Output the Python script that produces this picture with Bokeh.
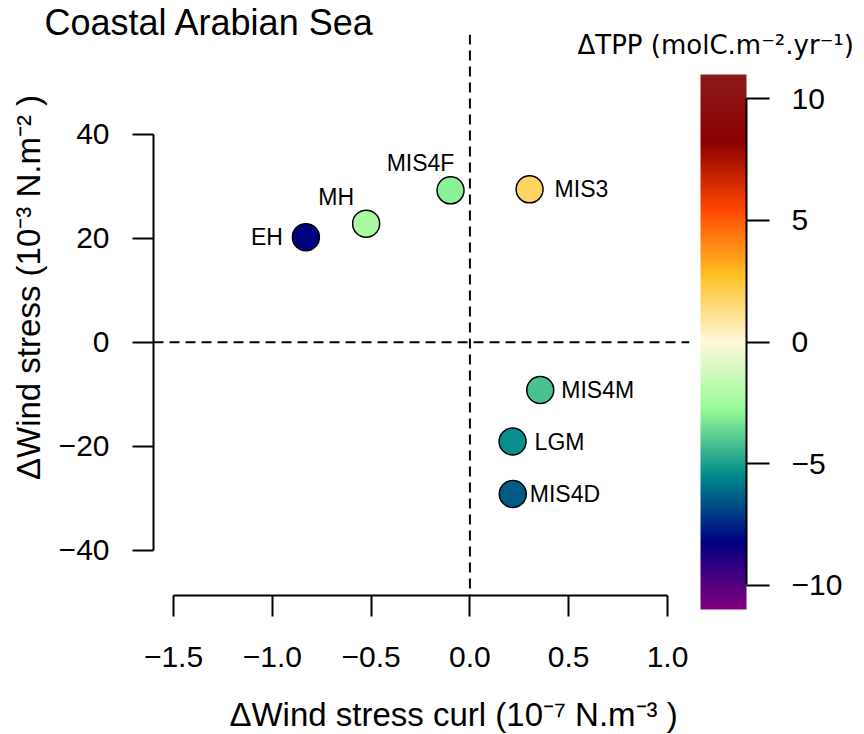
import numpy as np
from bokeh.plotting import figure
from bokeh.models import (ColumnDataSource, LinearColorMapper, ColorBar, FixedTicker,
                          Span, Title, CustomJSTickFormatter)
from bokeh.transform import linear_cmap
from bokeh.core.properties import value
from bokeh.embed import file_html
from bokeh.resources import INLINE

# ---- data ----
periods = ["EH", "MH", "MIS4F", "MIS3", "MIS4M", "LGM", "MIS4D"]
curl = [-0.83, -0.525, -0.098, 0.302, 0.356, 0.216, 0.217]        # 1e-7 N.m-3
stress = [20.2, 22.8, 29.2, 29.4, -9.2, -19.1, -29.2]             # 1e-3 N.m-2
dtpp = [-8.2, -2.3, -3.0, 1.85, -4.2, -5.4, -6.4]                 # molC.m-2.yr-1

x_ticks = [-1.5, -1.0, -0.5, 0.0, 0.5, 1.0]
y_ticks = [-40, -20, 0, 20, 40]
cb_ticks = [-10, -5, 0, 5, 10]

# ---- style ----
label_dx = [-23, -30, -30, 25, 21, 22, 17]
label_dy = [0, -27, -27, 0, 0, 0, 0]
label_align = ["right", "center", "center", "left", "left", "left", "left"]

stops = ["#800080", "#000080", "#008B8B", "#98FB98", "#FFF8DC",
         "#FFC125", "#FF4500", "#8B0000", "#8B1A1A"]

def hex2rgb(h):
    return [int(h[i:i + 2], 16) for i in (1, 3, 5)]

rgb = np.array([hex2rgb(c) for c in stops], dtype=float)
pos = np.linspace(0, 1, len(stops))
t = np.linspace(0, 1, 256)
palette = ["#%02x%02x%02x" % tuple(int(round(np.interp(tt, pos, rgb[:, k]))) for k in range(3))
           for tt in t]

mapper = LinearColorMapper(palette=palette, low=-11, high=11)

src = ColumnDataSource(dict(period=periods, curl=curl, stress=stress, dtpp=dtpp,
                            dx=label_dx, dy=label_dy, align=label_align))

FONT = "Liberation Sans"

title = Title(text="Coastal Arabian Sea", align="left", offset=-109,
              text_font=FONT, text_font_size="36px", text_font_style="normal",
              text_color="black", standoff=-17, vertical_align="bottom")

p = figure(frame_width=536, frame_height=561,
           min_border_left=153, min_border_right=170, min_border_top=34, min_border_bottom=136,
           x_range=(-1.6012, 1.1113), y_range=(-48.71, 59.17),
           output_backend="svg", toolbar_location=None, title=title)
p.outline_line_color = None
p.grid.visible = False
p.background_fill_color = "white"
p.border_fill_color = "white"

minus_fmt1 = CustomJSTickFormatter(code="return tick.toFixed(1).replace('-', '\u2212')")
minus_fmt0 = CustomJSTickFormatter(code="return tick.toFixed(0).replace('-', '\u2212')")

for ax, ticks, fmt, bounds in ((p.xaxis[0], x_ticks, minus_fmt1, (-1.5, 1.0)),
                               (p.yaxis[0], y_ticks, minus_fmt0, (-40, 40))):
    ax.ticker = FixedTicker(ticks=ticks)
    ax.formatter = fmt
    ax.bounds = bounds
    ax.axis_line_width = 2
    ax.axis_line_color = "black"
    ax.major_tick_line_width = 2
    ax.major_tick_line_color = "black"
    ax.major_tick_out = 21
    ax.major_tick_in = 0
    ax.minor_tick_line_color = None
    ax.major_label_text_font = FONT
    ax.major_label_text_font_size = "30px"
    ax.major_label_text_color = "black"
    ax.axis_label_text_font = FONT
    ax.axis_label_text_font_size = "33px"
    ax.axis_label_text_font_style = "normal"
    ax.axis_label_text_color = "black"

NB = "\u00a0"
p.xaxis.axis_label = NB * 7 + "\u0394Wind stress curl (10\u207b\u2077 N.m\u207b\u00b3 )"
p.yaxis.axis_label = NB * 6 + "\u0394Wind stress (10\u207b\u00b3 N.m\u207b\u00b2 )"
p.xaxis.major_label_standoff = 30
p.yaxis.major_label_standoff = 23
p.xaxis.axis_label_standoff = 26
p.yaxis.axis_label_standoff = 9

# dashed reference lines
for loc, dim in ((0, "height"), (0, "width")):
    p.add_layout(Span(location=loc, dimension=dim, line_color="black",
                      line_width=2, line_dash="10 6"))

p.scatter(x="curl", y="stress", source=src, size=27, marker="circle",
          fill_color=linear_cmap("dtpp", palette, -11, 11),
          line_color="black", line_width=1.5)

p.text(x="curl", y="stress", text="period", source=src,
       x_offset="dx", y_offset="dy", text_align="align", text_baseline="middle",
       text_font=value(FONT), text_font_size="23px", text_color="black")

# colour bar
cb = ColorBar(color_mapper=mapper, location=(547, -14), width=46, height=535,
              padding=0, margin=0,
              ticker=FixedTicker(ticks=cb_ticks), formatter=minus_fmt0,
              major_tick_out=23, major_tick_in=0,
              major_tick_line_color="black", major_tick_line_width=2,
              minor_tick_line_color=None,
              label_standoff=22,
              major_label_text_font=FONT, major_label_text_font_size="30px",
              major_label_text_color="black",
              bar_line_color=None, border_line_color=None, background_fill_color=None)
p.add_layout(cb)

# axis line along the colour bar's tick side
cb_line = ColorBar(color_mapper=LinearColorMapper(palette=["black"], low=0, high=1),
                   location=(592, 11), width=2, height=486, padding=0, margin=0,
                   ticker=FixedTicker(ticks=[]), major_tick_line_color=None,
                   minor_tick_line_color=None, major_label_text_alpha=0,
                   bar_line_color=None, border_line_color=None, background_fill_color=None)
p.add_layout(cb_line)

# colour-bar title (horizontal, above the bar)
cb_title = ColorBar(color_mapper=mapper, orientation="horizontal",
                    location=(424, 535), width=275, height=1, padding=0, margin=0,
                    scale_alpha=0,
                    ticker=FixedTicker(ticks=[]), major_tick_line_color=None,
                    minor_tick_line_color=None, major_label_text_alpha=0,
                    title="\u0394TPP (molC.m\u207b\u00b2.yr\u207b\u00b9)",
                    title_text_font="DejaVu Sans", title_text_font_size="26px",
                    title_text_font_style="normal", title_text_color="black",
                    title_standoff=0,
                    bar_line_color=None, border_line_color=None, background_fill_color=None)
p.add_layout(cb_title)

open("out.html", "w").write(file_html(p, INLINE))
